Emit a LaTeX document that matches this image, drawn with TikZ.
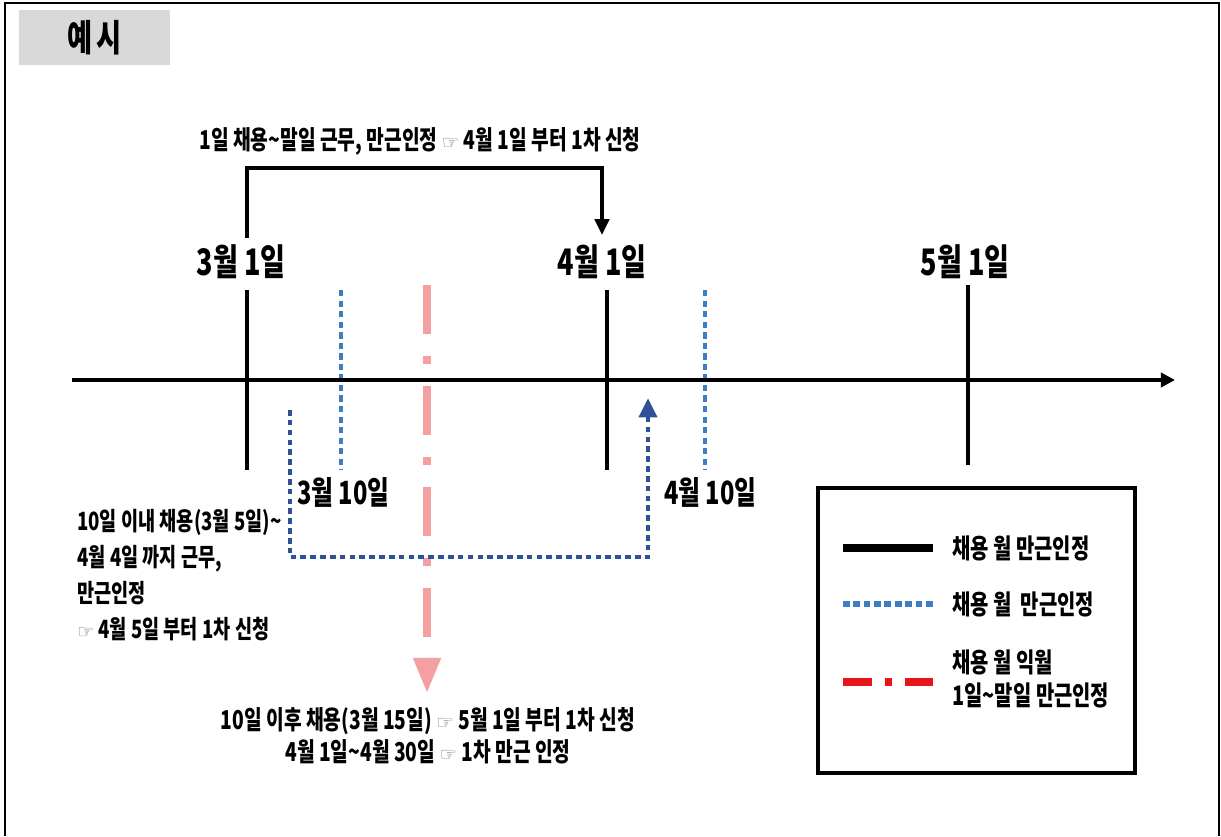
\documentclass[tikz,border=0pt]{standalone}
\usepackage{fontspec}
\setmainfont{Noto Sans CJK KR}[FakeStretch=0.74]
\newfontfamily\symf{DejaVu Sans}[Scale=0.75]
\usetikzlibrary{arrows.meta}
\definecolor{lblue}{RGB}{60,125,195}
\definecolor{dblue}{RGB}{47,82,150}
\definecolor{pinkc}{RGB}{244,160,160}
\definecolor{redc}{RGB}{232,22,28}
\definecolor{grayc}{RGB}{217,217,217}
\newcommand\hand{{\symf\mdseries\color{black!55}☞}}
\tikzset{
  tk/.style={line width=2.8pt},
  ax/.style={line width=2.8pt,-{Triangle[length=8pt,width=8pt]}},
  bl/.style={font=\bfseries\fontsize{20.8}{22}\selectfont,inner sep=0pt},
  ml/.style={font=\bfseries\fontsize{18.2}{20}\selectfont,inner sep=0pt},
  lb/.style={font=\bfseries\fontsize{14.8}{20.4}\selectfont,inner sep=0pt},
  lg/.style={font=\bfseries\fontsize{15.3}{18.7}\selectfont,inner sep=0pt,align=left},
  dt/.style={draw=lblue,line width=2.8pt,dash pattern=on 3.6pt off 2.4pt},
  dk/.style={draw=dblue,line width=2.8pt,dash pattern=on 3.2pt off 2.4pt},
  pd/.style={draw=pinkc,line width=4pt,dash pattern=on 28pt off 12.5pt on 4.5pt off 12.5pt},
}

\begin{document}
\begin{tikzpicture}[x=0.02cm,y=-0.02cm]
  \useasboundingbox (0,0) rectangle (1221,836);
  \draw[line width=0.8pt] (5,836) -- (5,3) -- (1219,3) -- (1219,836);
  \node[fill=grayc,minimum width=3.02cm,minimum height=1.1cm,
        font=\bfseries\fontsize{21}{22}\selectfont] (ttl) at (94.5,37.5) {예\hspace{2.5pt}시};

  % time axis
  \coordinate (a0) at (72,380);
  \coordinate (a1) at (1175,380);

  % month ticks
  \coordinate (t3a) at (247,290); \coordinate (t3b) at (247,470);
  \coordinate (t4a) at (607,290); \coordinate (t4b) at (607,470);
  \coordinate (t5a) at (968,285); \coordinate (t5b) at (968,465);
  \node[bl] (m3) at (241,262) {3월 1일};
  \node[bl] (m4) at (602,262) {4월 1일};
  \node[bl] (m5) at (965,262) {5월 1일};

  % 10th of month
  \coordinate (d3a) at (341,290); \coordinate (d3b) at (341,470);
  \coordinate (d4a) at (705,290); \coordinate (d4b) at (705,470);
  \node[ml,anchor=west] (n3) at (297,492) {3월 10일};
  \node[ml,anchor=west] (n4) at (664,492) {4월 10일};

  % after the 10th
  \coordinate (p0) at (427,285);
  \coordinate (p1) at (427,693);
  \draw[pd,-{Triangle[length=20pt,width=15pt]}] (p0) -- (p1);

  \draw[dt] (d3a) -- (d3b);
  \draw[dt] (d4a) -- (d4b);
  \draw[ax] (a0) -- (a1);
  \draw[tk] (t3a) -- (t3b);
  \draw[tk] (t4a) -- (t4b);
  \draw[tk] (t5a) -- (t5b);

  % hired on the 1st
  \node[lb] (top) at (420,141) {1일 채용\textasciitilde 말일 근무, 만근인정 \hand\ 4월 1일 부터 1차 신청};
  \coordinate (br1) at (247,238);
  \coordinate (br2) at (602,235);
  \draw[tk,-{Triangle[length=9pt,width=8pt]}] (br1) -- ++(0,-70) -| (br2);

  % hired before the 10th
  \coordinate (q0) at (290,410);
  \coordinate (q1) at (648,398);
  \draw[dk,-{Triangle[length=11pt,width=10pt]}] (q0) -- ++(0,147) -| (q1);
  \node[lb,anchor=north west,align=left,font=\bfseries\fontsize{14.3}{20.4}\selectfont] (early) at (77,509)
    {10일 이내 채용(3월 5일)\textasciitilde\\4월 4일 까지 근무,\\만근인정\\\hand\ 4월 5일 부터 1차 신청};

  \node[lb,align=center,font=\bfseries\fontsize{14.8}{18.2}\selectfont] (late) at (428,736)
    {10일 이후 채용(3월 15일) \hand\ 5월 1일 부터 1차 신청\\4월 1일\textasciitilde 4월 30일 \hand\ 1차 만근 인정};

  % legend
  \draw[line width=2.8pt] (818,488) rectangle (1135,773);
  \coordinate (k1a) at (843,548); \coordinate (k1b) at (933,548);
  \coordinate (k2a) at (843,604); \coordinate (k2b) at (933,604);
  \coordinate (k3a) at (843,682); \coordinate (k3b) at (933,682);
  \draw[line width=4.5pt] (k1a) -- (k1b);
  \draw[draw=lblue,line width=3pt,dash pattern=on 3.8pt off 2.1pt] (k2a) -- (k2b);
  \draw[draw=redc,line width=4pt,dash pattern=on 16.4pt off 7.4pt on 4pt off 7.4pt] (k3a) -- (k3b);
  \node[lg,anchor=west] (k1) at (952,548) {채용 월 만근인정};
  \node[lg,anchor=west] (k2) at (952,604) {채용 월 \,만근인정};
  \node[lg,anchor=west] (k3) at (952,679) {채용 월 익월\\1일\textasciitilde 말일 만근인정};
\end{tikzpicture}
\end{document}
